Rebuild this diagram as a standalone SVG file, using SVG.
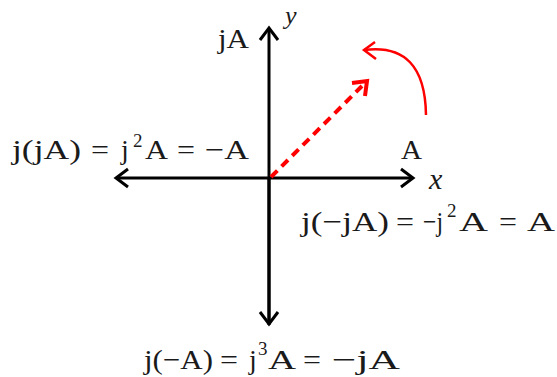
<svg xmlns="http://www.w3.org/2000/svg" width="557" height="377" viewBox="0 0 557 377">
<style>
text{font-family:"Liberation Serif","Times New Roman",serif;font-size:28px;fill:#1a1a1a}
.it{font-style:italic;font-size:30px}
.sup{font-size:19px}
.ax{stroke:#000;stroke-width:3;fill:none}
.red{stroke:#ff0000;fill:none;stroke-linecap:butt}
</style>
<rect width="557" height="377" fill="#fff"/>
<g id="connectors">
  <path class="ax" d="M269,325 V28"/>
  <path class="ax" d="M260,40 L269,28 L278,40"/>
  <path class="ax" d="M269,178 V324"/>
  <path class="ax" d="M260,312 L269,324 L278,312"/>
  <path class="ax" d="M116,178 H413"/>
  <path class="ax" d="M128,169 L116,178 L128,187"/>
  <path class="ax" d="M401,169 L413,178 L401,187"/>
  <path class="red" stroke-width="4" stroke-dasharray="9,6" d="M271,177 L362,86"/>
  <path class="red" stroke-width="4" stroke-linejoin="miter" d="M352,83 L367,81 L365,96"/>
  <path class="red" stroke-width="2.5" d="M426,115 Q425,42 364,50"/>
  <path class="red" stroke-width="2.5" d="M375,42 L364,50 L376,59"/>
</g>
<g id="label-y"><text class="it" x="285" y="24" style="font-size:26px">y</text></g>
<g id="label-x"><text class="it" x="429" y="189">x</text></g>
<g id="label-jA"><text x="218" y="48" textLength="31" lengthAdjust="spacingAndGlyphs">jA</text></g>
<g id="label-A"><text x="401" y="159" textLength="21" lengthAdjust="spacingAndGlyphs">A</text></g>
<g id="label-left">
  <text x="12" y="159" textLength="69" lengthAdjust="spacingAndGlyphs">j(jA)</text>
  <text x="91" y="159" textLength="18" lengthAdjust="spacingAndGlyphs">=</text>
  <text x="121" y="159">j</text>
  <text class="sup" x="133" y="147">2</text>
  <text x="145" y="159" textLength="23" lengthAdjust="spacingAndGlyphs">A</text>
  <text x="177" y="159" textLength="18" lengthAdjust="spacingAndGlyphs">=</text>
  <text x="205" y="159" textLength="44" lengthAdjust="spacingAndGlyphs">−A</text>
</g>
<g id="label-right">
  <text x="301" y="231" textLength="88" lengthAdjust="spacingAndGlyphs">j(−jA)</text>
  <text x="396" y="231" textLength="18" lengthAdjust="spacingAndGlyphs">=</text>
  <text x="423" y="231" textLength="20" lengthAdjust="spacingAndGlyphs">−j</text>
  <text class="sup" x="447" y="217">2</text>
  <text x="459" y="231" textLength="29" lengthAdjust="spacingAndGlyphs">A</text>
  <text x="499" y="231" textLength="18" lengthAdjust="spacingAndGlyphs">=</text>
  <text x="527" y="231" textLength="28" lengthAdjust="spacingAndGlyphs">A</text>
</g>
<g id="label-bottom">
  <text x="144" y="369" textLength="69" lengthAdjust="spacingAndGlyphs">j(−A)</text>
  <text x="220" y="369" textLength="18" lengthAdjust="spacingAndGlyphs">=</text>
  <text x="249" y="369">j</text>
  <text class="sup" x="258" y="355">3</text>
  <text x="268" y="369" textLength="28" lengthAdjust="spacingAndGlyphs">A</text>
  <text x="303" y="369" textLength="18" lengthAdjust="spacingAndGlyphs">=</text>
  <text x="332" y="369" textLength="68" lengthAdjust="spacingAndGlyphs">−jA</text>
</g>
</svg>
